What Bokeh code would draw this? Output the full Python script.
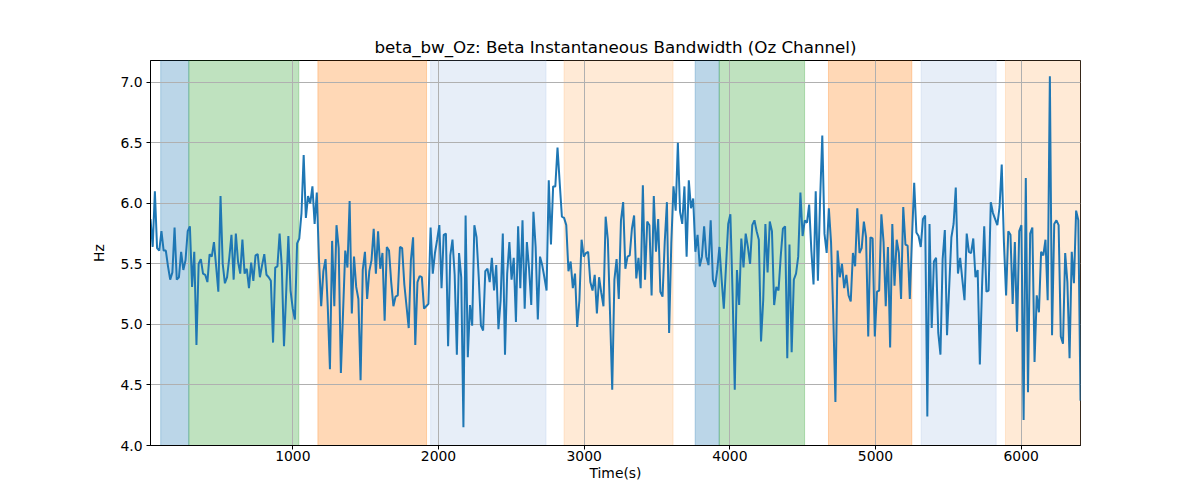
import numpy as np
from bokeh.plotting import figure
from bokeh.models import Range1d, FixedTicker, NumeralTickFormatter, ColumnDataSource
from bokeh.embed import file_html
from bokeh.resources import INLINE

# ---- data ----
seg1 = [5.87, 5.64, 6.10, 5.63, 5.61, 5.77, 5.61, 5.61, 5.48, 5.37,
        5.43, 5.80, 5.37, 5.39, 5.60, 5.45, 5.53, 5.77, 5.81, 5.31,
        5.60, 4.83, 5.50, 5.54, 5.42, 5.41, 5.35, 5.58, 5.56, 5.68,
        5.48, 5.27, 6.06, 5.50, 5.34, 5.39, 5.55, 5.74, 5.37, 5.75,
        5.52, 5.42, 5.70, 5.42, 5.46, 5.30, 5.51, 5.36, 5.57, 5.58,
        5.39, 5.49, 5.58, 5.41, 5.39, 5.36, 4.85, 5.47, 5.48, 5.75,
        5.48, 4.82, 5.26, 5.73, 5.28, 5.13, 5.04, 5.67, 5.71, 5.92,
        6.40, 5.88, 6.06]
seg2 = [6.00, 6.14, 5.83, 6.09, 5.53, 5.15, 5.44, 5.54, 5.15, 4.63,
        5.69, 5.15, 5.82, 5.63, 4.60, 5.10, 5.61, 5.47, 6.02, 5.09,
        5.56, 5.31, 5.21, 4.54, 5.45, 5.60, 5.21, 5.44, 5.53, 5.79,
        5.42, 5.77, 5.46, 5.59, 5.03, 5.64, 5.61, 5.35, 5.15, 5.23,
        5.24, 5.64, 5.63, 5.33, 5.15, 4.97, 5.53, 5.72, 4.83, 5.35,
        5.40, 5.39, 5.13, 5.15, 5.17, 5.80, 5.42, 5.59, 5.70, 5.82,
        5.30, 5.74, 5.75, 4.82, 5.57, 5.70, 5.41, 4.75, 5.59, 5.39,
        4.15, 5.90, 4.73]
seg3 = [5.16, 4.99, 5.82, 5.72, 5.39, 4.99, 4.95, 5.44, 5.46, 5.35,
        5.55, 5.28, 5.49, 4.96, 5.20, 5.75, 4.75, 5.42, 5.68, 5.37,
        5.55, 5.02, 5.81, 5.30, 5.86, 5.13, 5.68, 5.46, 5.16, 5.93,
        5.64, 5.04, 5.56, 5.49, 5.39, 5.28, 6.19, 5.66, 6.14, 6.14,
        6.46, 6.17, 5.89, 5.88, 5.82, 5.44, 5.52, 5.30, 5.42, 4.98,
        5.20, 5.70, 5.56, 5.59, 5.60, 5.35, 5.28, 5.41, 5.09, 5.39,
        5.26, 5.15, 5.89, 5.70, 5.09, 4.46, 5.37, 5.54, 5.21, 5.86,
        6.01, 5.46, 5.56]
seg4 = [5.57, 5.79, 5.90, 5.38, 5.55, 5.30, 6.15, 5.37, 5.85, 5.82,
        5.24, 6.06, 5.60, 5.87, 5.27, 5.23, 5.68, 6.01, 4.93, 5.67,
        6.14, 5.94, 6.50, 5.93, 5.83, 6.14, 5.56, 6.19, 5.96, 6.04,
        5.60, 5.74, 5.48, 5.56, 5.81, 5.56, 5.49, 5.86, 5.37, 5.31,
        5.45, 5.64, 5.37, 5.13, 5.48, 5.83, 5.91, 5.26, 4.46, 5.45,
        5.16, 5.71, 5.47, 5.75, 5.64, 5.50, 5.82, 5.86, 5.77, 5.70,
        4.86, 5.20, 5.83, 5.43, 5.85, 5.77, 5.16, 5.31, 5.28, 5.56,
        5.79, 5.81, 4.72]
seg5 = [5.66, 4.77, 5.37, 5.42, 5.56, 6.09, 5.73, 5.86, 5.84, 5.99,
        5.61, 5.33, 6.10, 5.36, 6.03, 6.56, 5.75, 5.59, 5.96, 5.68,
        5.09, 4.36, 5.61, 5.39, 5.50, 5.30, 5.41, 5.24, 5.19, 5.59,
        5.48, 5.96, 5.59, 5.63, 5.85, 5.72, 4.90, 5.72, 5.71, 4.90,
        5.27, 5.28, 5.91, 5.68, 5.15, 5.64, 4.81, 5.83, 5.32, 5.70,
        5.59, 5.21, 5.97, 5.66, 5.65, 5.21, 5.72, 6.17, 5.76, 5.73,
        5.64, 5.87, 5.90, 4.24, 5.83, 4.97, 5.52, 5.55, 4.93, 4.75]
seg6 = [5.54, 5.78, 4.91, 5.31, 5.72, 5.83, 6.13, 5.42, 5.55, 5.37,
        5.20, 5.75, 5.60, 5.59, 5.71, 5.39, 5.45, 4.67, 5.31, 5.81,
        5.27, 5.28, 6.01, 5.92, 5.87, 5.82, 5.97, 6.32, 5.68, 5.24,
        5.77, 5.74, 5.17, 5.68, 4.94, 5.77, 5.82, 4.21, 6.21, 4.44,
        5.75, 5.80, 4.69, 5.24, 5.10, 5.60, 5.57, 5.70, 5.20, 7.05,
        4.91, 5.83, 5.86, 5.82, 4.90, 4.84, 5.59, 5.35, 4.72, 5.60,
        5.34, 5.94, 5.86, 4.37]

t_first = 23.0
t_last = 6407.0

band_start = [93, 286, 1172, 1946, 2862, 3762, 3927, 4677, 5313, 5892]
band_end = [286, 1041, 1918, 2738, 3610, 3927, 4513, 5249, 5828, 6407]
band_color = ["#1f77b4", "#2ca02c", "#ff7f0e", "#aec7e8", "#ffbb78",
              "#1f77b4", "#2ca02c", "#ff7f0e", "#aec7e8", "#ffbb78"]

x_ticks = [1000, 2000, 3000, 4000, 5000, 6000]
y_ticks = [4.0, 4.5, 5.0, 5.5, 6.0, 6.5, 7.0]

values = seg1 + seg2 + seg3 + seg4 + seg5 + seg6
times = np.linspace(t_first, t_last, len(values))

FONT = "DejaVu Sans"

p = figure(width=1184, height=484, output_backend="svg", toolbar_location=None,
           x_range=Range1d(t_first, t_last), y_range=Range1d(4.0, 7.18),
           min_border_left=150, min_border_right=104,
           min_border_top=60, min_border_bottom=39,
           title="beta_bw_Oz: Beta Instantaneous Bandwidth (Oz Channel)")

p.title.align = "center"
p.title.text_font = FONT
p.title.text_font_size = "16.7px"
p.title.text_font_style = "normal"
p.title.text_color = "black"
p.title.offset = 0
p.title.standoff = 8

bands = ColumnDataSource(dict(left=band_start, right=band_end, color=band_color))
p.quad(left="left", right="right", bottom=3.0, top=8.0, source=bands,
       fill_color="color", fill_alpha=0.3, line_color="color", line_alpha=0.3,
       line_width=1, level="image")

p.line(times, values, line_color="#1f77b4", line_width=2)

p.xaxis.ticker = FixedTicker(ticks=x_ticks)
p.yaxis.ticker = FixedTicker(ticks=y_ticks)
p.yaxis.formatter = NumeralTickFormatter(format="0.0")

for ax in [p.xaxis[0], p.yaxis[0]]:
    ax.major_label_text_font = FONT
    ax.major_label_text_font_size = "13.9px"
    ax.axis_label_text_font = FONT
    ax.axis_label_text_font_size = "13.9px"
    ax.axis_label_text_font_style = "normal"
    ax.major_tick_in = 0
    ax.major_tick_out = 4
    ax.minor_tick_out = 0
    ax.minor_tick_in = 0
    ax.axis_line_color = "black"
    ax.major_tick_line_color = "black"
    ax.major_label_text_color = "black"
    ax.axis_label_text_color = "black"

p.xaxis.axis_label = "Time(s)"
p.yaxis.axis_label = "Hz"
p.xaxis.major_label_standoff = 1
p.yaxis.major_label_standoff = 4
p.xaxis.axis_label_standoff = 1
p.yaxis.axis_label_standoff = 10

p.xgrid.grid_line_color = "#b0b0b0"
p.ygrid.grid_line_color = "#b0b0b0"
p.xgrid.grid_line_width = 1
p.ygrid.grid_line_width = 1

p.outline_line_color = "black"
p.outline_line_width = 1
p.outline_line_alpha = 1

open("out.html", "w").write(file_html(p, INLINE))
